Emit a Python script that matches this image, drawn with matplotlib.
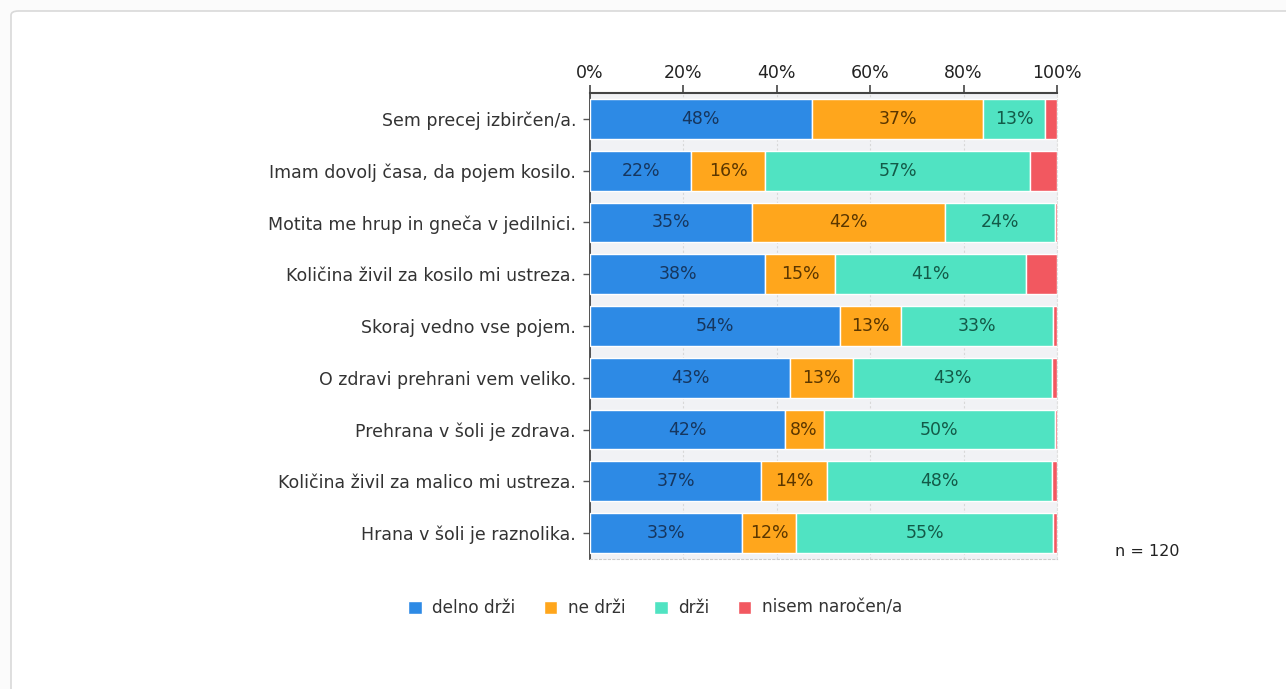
import matplotlib.pyplot as plt
from matplotlib.patches import FancyBboxPatch

statements = [
    "Sem precej izbirčen/a.",
    "Imam dovolj časa, da pojem kosilo.",
    "Motita me hrup in gneča v jedilnici.",
    "Količina živil za kosilo mi ustreza.",
    "Skoraj vedno vse pojem.",
    "O zdravi prehrani vem veliko.",
    "Prehrana v šoli je zdrava.",
    "Količina živil za malico mi ustreza.",
    "Hrana v šoli je raznolika.",
]
series = ["delno drži", "ne drži", "drži", "nisem naročen/a"]

delno = [47.5, 21.7, 34.6, 37.5, 53.6, 42.9, 41.7, 36.7, 32.6]
ne = [36.7, 15.8, 41.5, 15.0, 13.0, 13.4, 8.3, 14.0, 11.6]
drzi = [13.3, 56.7, 23.5, 40.8, 32.6, 42.7, 49.6, 48.2, 54.9]
nisem = [2.5, 5.8, 0.4, 6.7, 0.8, 1.0, 0.4, 1.1, 0.9]

tick_vals = [0, 20, 40, 60, 80, 100]
n_text = "n = 120"

colors = ["#2d8ae5", "#ffa61c", "#50e3c2", "#f25860"]
label_colors = ["#16365e", "#5a3600", "#135a48", None]


def main():
    plt.rcParams['font.family'] = ['DejaVu Sans']
    fig = plt.figure(figsize=(12.86, 6.89), dpi=100, facecolor="#fbfbfb")

    # white panel with rounded corner
    panel = FancyBboxPatch((11 / 1286, -0.1), 1.2, 1 - 11 / 689 + 0.1,
                           boxstyle="round,pad=0,rounding_size=0.006",
                           transform=fig.transFigure, facecolor="white",
                           edgecolor="#d9d9d9", lw=1.2, zorder=-5)
    fig.add_artist(panel)

    ax = fig.add_axes([590 / 1286, 1 - 559 / 689, 467 / 1286, 466 / 689])
    ax.set_facecolor("#f1f2f5")

    y = list(range(len(statements)))
    left = [0] * len(statements)
    for vals, col, lcol, name in zip([delno, ne, drzi, nisem], colors, label_colors, series):
        ax.barh(y, vals, left=left, height=0.77, color=col, edgecolor="white",
                linewidth=1.0, label=name, zorder=3)
        if lcol:
            for yi, v, l0 in zip(y, vals, left):
                ax.text(l0 + v / 2, yi, f"{v:.0f}%", ha="center", va="center",
                        fontsize=12.5, color=lcol, zorder=4)
        left = [a + b for a, b in zip(left, vals)]

    ax.set_xlim(0, 100)
    ax.set_ylim(8.5, -0.5)
    ax.xaxis.tick_top()
    ax.set_xticks(tick_vals)
    ax.set_xticklabels([f"{t}%" for t in tick_vals])
    ax.set_yticks(y)
    ax.set_yticklabels(statements)
    ax.tick_params(axis="x", length=6, width=1.2, colors="#444444",
                   labelcolor="#222222", labelsize=12.5, pad=2)
    ax.tick_params(axis="y", length=5, width=1, colors="#555555",
                   labelcolor="#333333", labelsize=12.5, pad=5)
    ax.grid(axis="x", color="#d8d8d8", linestyle=(0, (2, 2)), lw=0.8, zorder=1)

    ax.spines["top"].set_color("#444444")
    ax.spines["top"].set_linewidth(1.5)
    ax.spines["left"].set_color("#444444")
    ax.spines["left"].set_linewidth(1.3)
    ax.spines["bottom"].set_color("#cccccc")
    ax.spines["bottom"].set_linestyle((0, (2, 2)))
    ax.spines["right"].set_color("#e0e0e0")
    ax.spines["right"].set_linestyle((0, (2, 2)))

    fig.text(1115 / 1286, 1 - 551 / 689, n_text, fontsize=11.5, color="#222222",
             va="center", ha="left")

    fig.legend(loc="center", bbox_to_anchor=(655 / 1286, 1 - 608 / 689), ncol=4,
               frameon=False, fontsize=12.2, handlelength=0.8, handleheight=0.8,
               handletextpad=0.6, columnspacing=1.7, labelcolor="#333333")

    fig.savefig("out.png", dpi=100, facecolor=fig.get_facecolor())


if __name__ == "__main__":
    main()
